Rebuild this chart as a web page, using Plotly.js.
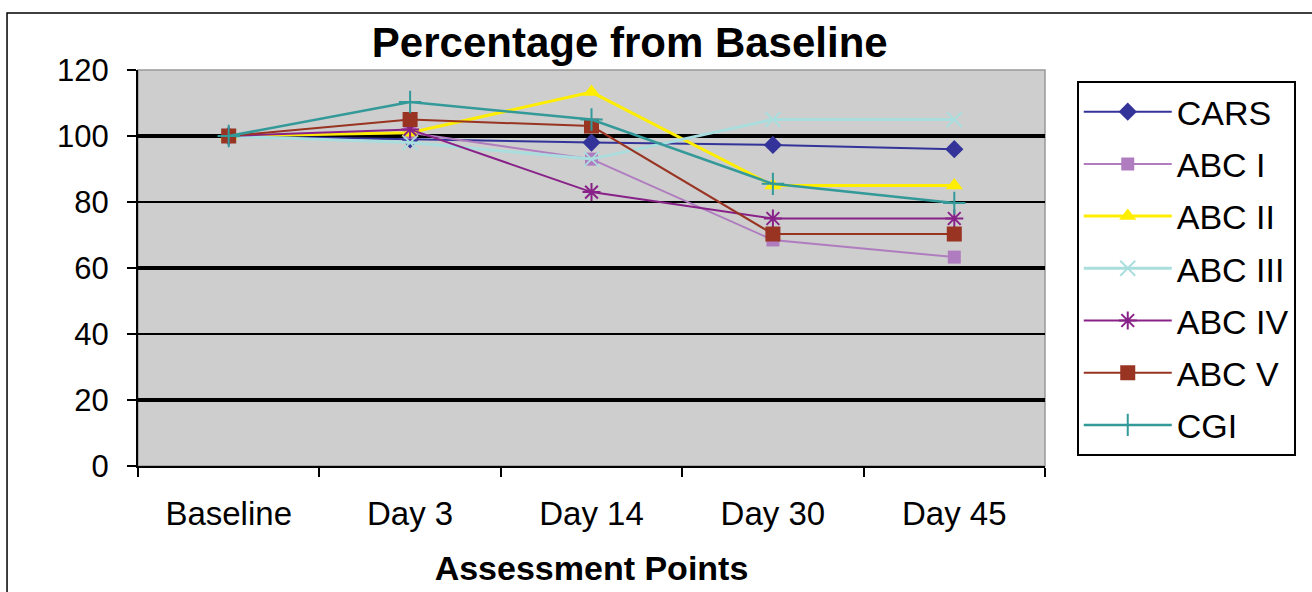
<!DOCTYPE html>
<html><head><meta charset="utf-8">
<script src="https://cdn.plot.ly/plotly-3.0.1.min.js"></script>
<style>html,body{margin:0;padding:0;background:#fff;}#chart{width:1312px;height:592px;}</style>
</head><body><div id="chart"></div>
<script>
const categories = ["Baseline", "Day 3", "Day 14", "Day 30", "Day 45"];
const seriesNames = ["CARS", "ABC I", "ABC II", "ABC III", "ABC IV", "ABC V", "CGI"];
const cars   = [100, 99, 98, 97.3, 96];
const abc1   = [100, 101, 93, 68.5, 63.3];
const abc2   = [100, 101, 113.3, 85, 85];
const abc3   = [100, 98, 93, 105, 105];
const abc4   = [100, 102, 83, 75, 75];
const abc5   = [100, 105, 103, 70.3, 70.3];
const cgi    = [100, 110.3, 105, 85.5, 79.7];
const yTicks = [0, 20, 40, 60, 80, 100, 120];

const seriesValues = [cars, abc1, abc2, abc3, abc4, abc5, cgi];
const colors = ["#333399", "#b07cc0", "#ffee00", "#aadddd", "#882288", "#993322", "#339999"];
const symbols = ["diamond", "square", "triangle-up", "x-thin-open", "asterisk-open", "square", "cross-thin-open"];
const msizes = [14, 13, 15, 15, 15, 15, 16];
const lwidths = [2, 2, 3, 3, 2, 2, 2.5];

const traces = seriesNames.map((n, i) => ({
  type: "scatter", mode: "lines+markers", name: n, x: categories, y: seriesValues[i],
  legendgroup: "g" + i,
  line: {color: colors[i], width: lwidths[i]},
  marker: {symbol: symbols[i], size: msizes[i], color: colors[i], line: {color: colors[i], width: (symbols[i].includes("open") ? 2 : 0)}}
}));
// thick gridlines overlay axis (library grid, every 40 starting at 20)
traces.push({type: "scatter", x: categories, y: cars, yaxis: "y2", mode: "none", showlegend: false, hoverinfo: "skip"});

const font = "Liberation Sans, Arial, sans-serif";
const layout = {
  width: 1312, height: 592,
  paper_bgcolor: "#ffffff", plot_bgcolor: "#cdcecd",
  margin: {l: 138, r: 267, t: 70, b: 126},
  font: {family: font, color: "#000", size: 31},
  title: {text: "<b>Percentage from Baseline</b>", font: {family: font, size: 42, color: "#000"}, x: 0.48, xanchor: "center", y: 0.929, yanchor: "middle"},
  xaxis: {
    type: "category", range: [-0.5, 4.5], tickson: "boundaries",
    ticks: "outside", ticklen: 9, tickwidth: 2, tickcolor: "#000",
    showline: true, linecolor: "#000", linewidth: 2, showgrid: false, zeroline: false,
    tickfont: {size: 33}, ticklabelstandoff: 17,
    title: {text: "<b>Assessment Points</b>", font: {size: 34}, standoff: 26}
  },
  yaxis: {
    range: [0, 120], tickvals: yTicks, ticks: "outside", ticklen: 9, tickwidth: 2, tickcolor: "#000",
    showline: true, linecolor: "#000", linewidth: 2, showgrid: true, gridcolor: "#000", gridwidth: 1.2,
    zeroline: false, tickfont: {size: 31}, ticklabelstandoff: 12
  },
  yaxis2: {
    overlaying: "y", range: [0, 120], tick0: 20, dtick: 40, showticklabels: false, ticks: "",
    showgrid: true, gridcolor: "#000", gridwidth: 3.2, zeroline: false, showline: false, side: "left"
  },
  legend: {
    x: 1.035, y: 0.972, xanchor: "left", yanchor: "top",
    bgcolor: "#ffffff", bordercolor: "#000", borderwidth: 2,
    font: {size: 34}, traceorder: "grouped", tracegroupgap: 5, itemwidth: 88
  },
  shapes: [
    {type: "rect", xref: "paper", yref: "paper", x0: 0, x1: 1, y0: 0, y1: 1, line: {color: "#999", width: 1.5}, layer: "below"},
    {type: "rect", xref: "paper", yref: "paper", x0: -0.1444, x1: 1.05 + 0.3, y0: -0.5, y1: 1.144, line: {color: "#000", width: 1.5}, layer: "below"}
  ],
  showlegend: true
};
Plotly.newPlot("chart", traces, layout, {displayModeBar: false, staticPlot: true});
</script></body></html>
